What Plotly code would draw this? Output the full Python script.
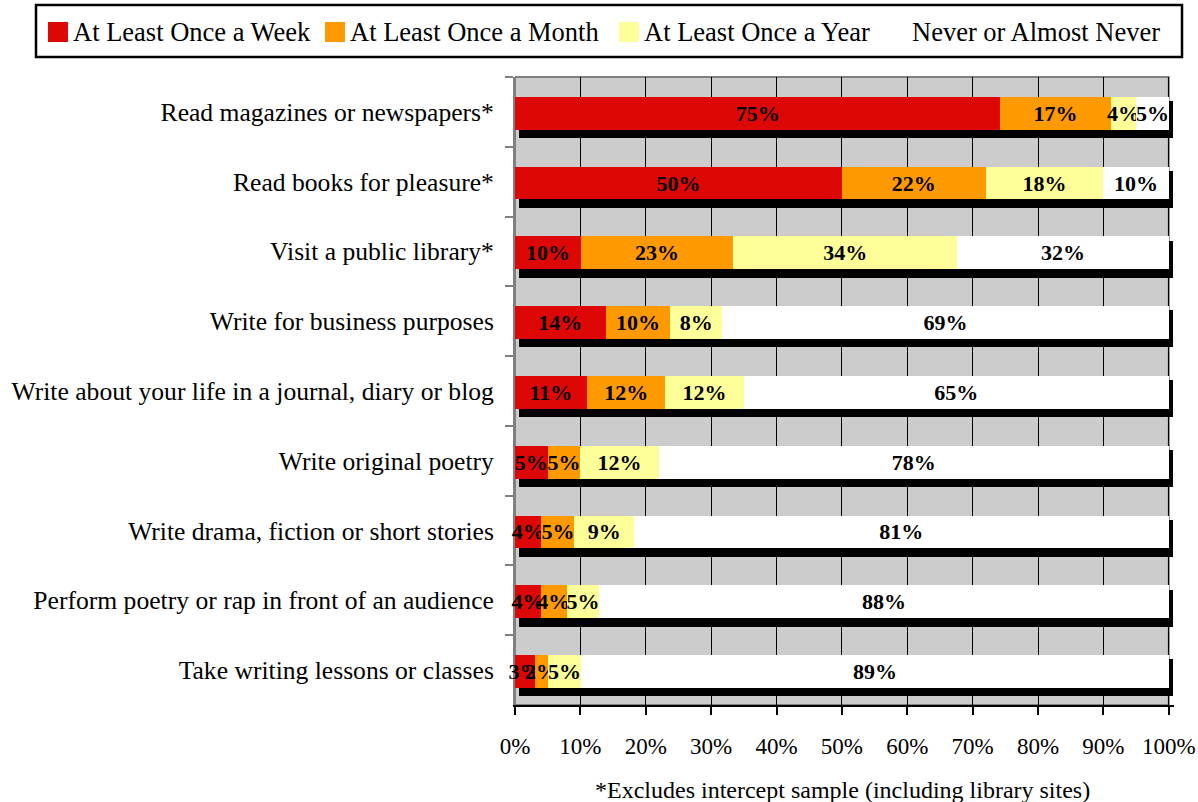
import plotly.graph_objects as go

# ---- data -------------------------------------------------------------
activities = [
    "Read magazines or newspapers*",
    "Read books for pleasure*",
    "Visit a public library*",
    "Write for business purposes",
    "Write about your life in a journal, diary or blog",
    "Write original poetry",
    "Write drama, fiction or short stories",
    "Perform poetry or rap in front of an audience",
    "Take writing lessons or classes",
]
weekly = [75, 50, 10, 14, 11, 5, 4, 4, 3]
monthly = [17, 22, 23, 10, 12, 5, 5, 4, 2]
yearly = [4, 18, 34, 8, 12, 12, 9, 5, 5]
never = [5, 10, 32, 69, 65, 78, 81, 88, 89]

series_names = [
    "At Least Once a Week",
    "At Least Once a Month",
    "At Least Once a Year",
    "Never or Almost Never",
]
series_values = [weekly, monthly, yearly, never]
series_colors = ["#DD0806", "#FF9900", "#FFFF99", "#FFFFFF"]

tick_values = [0, 10, 20, 30, 40, 50, 60, 70, 80, 90, 100]
tick_labels = [f"{v}%" for v in tick_values]
footnote = "*Excludes intercept sample (including library sites)"

# ---- layout geometry (pixels) ----------------------------------------
W, H = 1198, 802
ML, MR, MT, MB = 515, 24, 77, 97
PW, PH = W - ML - MR, H - MT - MB
FONT = "Liberation Serif"


def px(x):
    return (x - ML) / PW


def py(y):
    return (H - MB - y) / PH


n = len(activities)
totals = [sum(v) for v in zip(*series_values)]

BAR_W = 0.47
SHADOW_W = 0.53

fig = go.Figure()

# drop shadow behind every bar (base axes, shifted a few pixels)
fig.add_trace(go.Bar(
    y=activities, x=totals, orientation="h",
    xaxis="x", yaxis="y", width=SHADOW_W,
    marker=dict(color="black", line=dict(width=0)),
    hoverinfo="skip", showlegend=False,
))

# stacked bars (overlay axes carry the visible ticks)
for name, vals, col in zip(series_names, series_values, series_colors):
    fig.add_trace(go.Bar(
        y=activities, x=vals, orientation="h", name=name,
        xaxis="x2", yaxis="y2", width=BAR_W, offset=-BAR_W / 2 + 0.02,
        marker=dict(color=col, line=dict(width=0)),
        text=[f"{v}%" for v in vals],
        textposition="inside", insidetextanchor="middle",
        textangle=0, constraintext="none", cliponaxis=False,
        textfont=dict(family=FONT, size=22, color="black", weight=700),
        showlegend=False,
    ))

shift_units = 0.6   # shadow offset along x (axis units)
shift_cat = 0.11    # shadow offset along y (category units)

fig.update_layout(
    width=W, height=H, autosize=False,
    margin=dict(l=ML, r=MR, t=MT, b=MB),
    paper_bgcolor="white", plot_bgcolor="white",
    barmode="stack", barnorm="percent",
    font=dict(family=FONT, color="black"),
    xaxis=dict(range=[-shift_units, 100.8 - shift_units], visible=False,
               automargin=False),
    yaxis=dict(type="category", categoryorder="array", categoryarray=activities,
               range=[n - 0.5 - shift_cat, -0.5 - shift_cat], visible=False,
               automargin=False),
    xaxis2=dict(
        overlaying="x", anchor="y2", side="bottom", range=[0, 100.8],
        tickmode="array", tickvals=tick_values, ticktext=tick_labels,
        showgrid=True, gridcolor="black", gridwidth=1, zeroline=False,
        ticks="outside", ticklen=8, tickwidth=1.5, tickcolor="black",
        showline=True, linecolor="black", linewidth=2,
        tickfont=dict(family=FONT, size=23, color="black"),
        ticklabelstandoff=11, automargin=False,
    ),
    yaxis2=dict(
        overlaying="y", anchor="x2", type="category",
        categoryorder="array", categoryarray=activities,
        range=[n - 0.5, -0.5],
        ticks="outside", tickson="boundaries", ticklen=8, tickwidth=1.5,
        tickcolor="#808080", showline=True, linecolor="#808080", linewidth=2,
        showgrid=False, zeroline=False, layer="below traces",
        tickfont=dict(family=FONT, size=25.6, color="black"),
        ticklabelstandoff=14, automargin=False,
    ),
)

shapes = [
    # grey plot area
    dict(type="rect", xref="x2", yref="paper", x0=0, x1=100, y0=0, y1=1,
         fillcolor="#CCCCCC", line=dict(width=0), layer="below"),
    # plot area border
    dict(type="rect", xref="x2", yref="paper", x0=0, x1=100, y0=0, y1=1,
         fillcolor="rgba(0,0,0,0)", line=dict(color="#808080", width=2), layer="between"),
    # legend frame
    dict(type="rect", xref="paper", yref="paper",
         x0=px(36), x1=px(1182), y0=py(57), y1=py(5),
         fillcolor="white", line=dict(color="black", width=2.5)),
]

annotations = []
legend_x = [48, 325, 619, 887]
for lx, name, col in zip(legend_x, series_names, series_colors):
    shapes.append(dict(type="rect", xref="paper", yref="paper",
                       x0=px(lx), x1=px(lx + 20), y0=py(42), y1=py(22),
                       fillcolor=col, line=dict(width=0)))
    annotations.append(dict(xref="paper", yref="paper", x=px(lx + 23), y=py(32),
                            xanchor="left", yanchor="middle", showarrow=False,
                            text=name, font=dict(family=FONT, size=26.5, color="black")))

annotations.append(dict(xref="paper", yref="paper", x=px(842), y=py(790),
                        xanchor="center", yanchor="middle", showarrow=False,
                        text=footnote, font=dict(family=FONT, size=24, color="black")))

fig.update_layout(shapes=shapes, annotations=annotations)

fig.write_html("out.html")
